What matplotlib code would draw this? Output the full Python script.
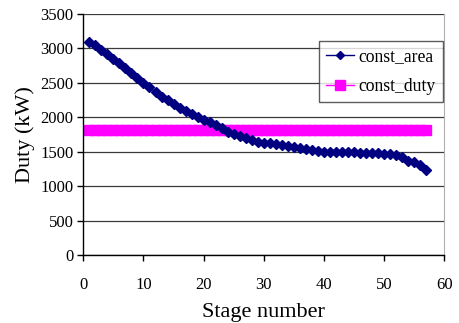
import matplotlib
matplotlib.use('Agg')
import matplotlib.pyplot as plt

# stage numbers and duty values
stages = list(range(1, 58))
const_area = [3090, 3040, 2975, 2915, 2845, 2780, 2710, 2645, 2570, 2495,
              2430, 2365, 2295, 2250, 2195, 2130, 2090, 2045, 2000, 1960,
              1925, 1880, 1840, 1790, 1750, 1720, 1695, 1670, 1645, 1630,
              1620, 1605, 1595, 1580, 1565, 1550, 1535, 1520, 1505, 1500,
              1495, 1495, 1495, 1495, 1490, 1485, 1480, 1480, 1480, 1470,
              1465, 1450, 1415, 1370, 1350, 1305, 1240]
const_duty = [1820] * len(stages)

x_ticks = [0, 10, 20, 30, 40, 50, 60]
y_ticks = [0, 500, 1000, 1500, 2000, 2500, 3000, 3500]

plt.rcParams['font.family'] = ['Liberation Serif', 'DejaVu Serif']

fig = plt.figure(figsize=(4.59, 3.23), dpi=100)
ax = fig.add_axes([0.1815, 0.2105, 0.968 - 0.1815, 0.9576 - 0.2105])

ax.plot(stages, const_area, color='#000080', marker='D', markersize=5,
        linewidth=1, label='const_area', zorder=3)
ax.plot(stages, const_duty, color='#FF00FF', marker='s', markersize=7.5,
        linewidth=1, label='const_duty', zorder=2)

ax.set_xlim(0, 60)
ax.set_ylim(0, 3500)
ax.set_xticks(x_ticks)
ax.set_yticks(y_ticks)
ax.yaxis.grid(True, color='#3a3a3a', linewidth=0.9)
ax.set_axisbelow(True)

for s in ['left', 'bottom']:
    ax.spines[s].set_color('black')
    ax.spines[s].set_linewidth(1)
ax.spines['right'].set_color('#b0b0b0')
ax.spines['top'].set_visible(False)

ax.tick_params(direction='out', length=4, width=1, labelsize=12, pad=3)
ax.tick_params(axis='x', pad=12)

ax.set_xlabel('Stage number', fontsize=16, labelpad=7)
ax.set_ylabel('Duty (kW)', fontsize=16, labelpad=4)

leg = ax.legend(loc='upper left', bbox_to_anchor=(0.652, 0.887), fontsize=12.7,
                frameon=True, fancybox=False, borderpad=0.4,
                handlelength=1.6, handletextpad=0.25, labelspacing=0.75,
                borderaxespad=0, markerscale=0.9)
leg.get_frame().set_edgecolor('#333333')
leg.get_frame().set_linewidth(1)

fig.savefig('out.png', dpi=100)
